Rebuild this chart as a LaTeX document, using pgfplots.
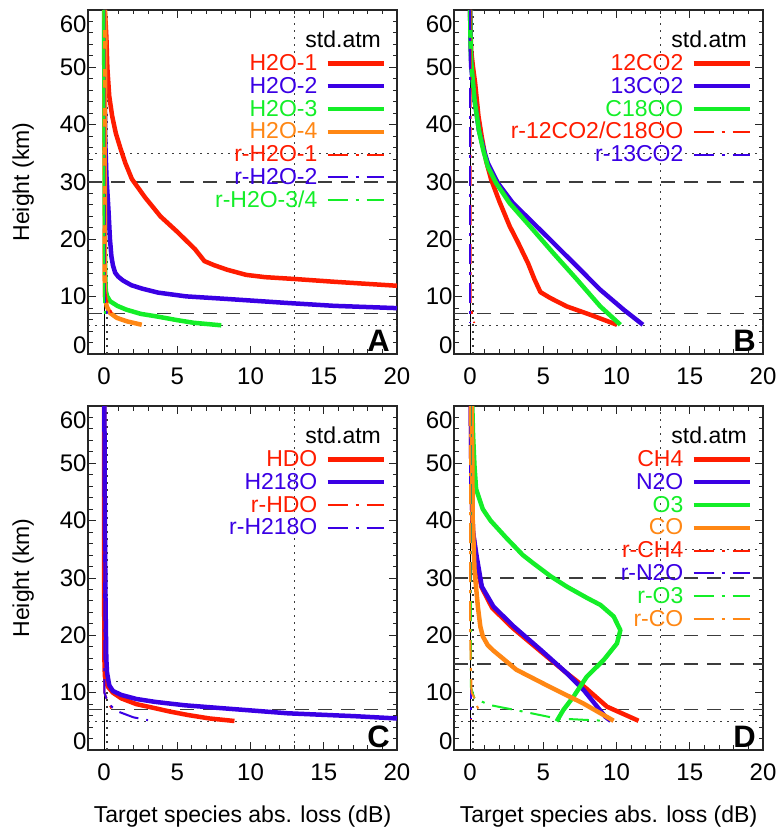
\documentclass[border=0pt]{standalone}
\usepackage{fontspec}
\setmainfont{Liberation Sans}
\usepackage{pgfplots}
\pgfplotsset{compat=1.18}
\definecolor{cred}{RGB}{255,28,0}
\definecolor{cblue}{RGB}{58,0,228}
\definecolor{cgreen}{RGB}{20,238,40}
\definecolor{corange}{RGB}{255,135,20}
\definecolor{refgray}{RGB}{60,60,60}
\pgfplotsset{
  panel/.style={
    scale only axis, width=309pt, height=344pt,
    xmin=-1.1, xmax=20, ymin=0, ymax=60,
    xtick={0,5,10,15,20}, xticklabels={0,5,10,15,20},
    ytick={0,10,20,30,40,50,60},
    yticklabels={\raisebox{0pt}[0pt][0pt]{0},10,20,30,40,50,\raisebox{-0.93em}[0pt][0pt]{60}},
    minor x tick num=4, minor y tick num=4,
    tick align=inside,
    major tick length=8pt, minor tick length=4.5pt,
    axis line style={line width=1.2pt, black!85},
    every tick/.style={line width=1pt, black!85},
    tick label style={font=\fontsize{24}{28}\selectfont},
    xticklabel style={yshift=-10pt},
    yticklabel style={xshift=2pt},
    /pgf/number format/assume math mode=true,
    every axis y label/.style={at={(axis description cs:-0.21,0.5)}, rotate=90, anchor=center, font=\fontsize{23}{23}\selectfont},
    every axis x label/.style={at={(axis description cs:0.5,-0.194)}, anchor=center, font=\fontsize{23}{23}\selectfont},
    legend plot pos=right,
    legend cell align=right,
    legend style={draw=none, fill=none, at={(0.964,0.94)}, anchor=north east,
      inner sep=0pt, outer sep=0pt, row sep=2.8pt, column sep=8pt,
      font=\fontsize{23}{23}\selectfont,
      nodes={inner sep=0pt, text height=17pt, text depth=3pt}},
    legend image code/.code={\draw[##1] (0pt,0pt) -- (56pt,0pt);},
    no markers,
  },
  sol/.style={line width=4.5pt, line join=round, line cap=butt},
  dd/.style={line width=2pt, dash pattern=on 20pt off 8pt on 3pt off 8pt},
  rdash/.style={refgray, line width=1.2pt, dash pattern=on 14pt off 9pt, forget plot},
  rdot/.style={refgray, line width=1.3pt, dash pattern=on 2pt off 5pt, forget plot},
  rsolid/.style={black, line width=1pt, forget plot},
}
\newcommand{\hrefl}[2]{\addplot[#1] coordinates {(-1.1,#2) (20,#2)};}
\newcommand{\vrefl}[2]{\addplot[#1] coordinates {(#2,0) (#2,60)};}
\newcommand{\plabel}[1]{\node[font=\fontsize{31}{31}\selectfont\bfseries, anchor=base east, inner sep=0pt] at (rel axis cs:0.977,0.007) {#1};}
\newcommand{\stdatm}{\addlegendimage{empty legend}\addlegendentry{\makebox[0pt][r]{std.atm\kern-64pt}}}
\begin{document}
\begin{tikzpicture}
% ---------------- Panel A ----------------
\begin{axis}[panel, at={(88pt,478pt)}, anchor=south west, ylabel={Height (km)}]
\vrefl{rsolid}{0}
\vrefl{rdot}{0.2}
\vrefl{rdot}{13}
\hrefl{rdot}{35}
\hrefl{rdash}{30}
\hrefl{rdash}{7}
\hrefl{rdot}{5}
\stdatm
\addplot[sol, cred] coordinates {(0.05,60) (0.12,57) (0.16,55) (0.22,50) (0.35,45) (0.55,41.5) (0.8,38.5) (1.1,36) (1.45,33.3) (1.9,30.5) (2.8,27.3) (3.85,24) (5.0,21.3) (6.2,18.3) (6.85,16.2) (7.5,15.5) (8.4,14.7) (9.7,13.8) (11,13.4) (12.9,13.1) (15.7,12.6) (20,11.9)};
\addlegendentry{\textcolor{cred}{H2O-1}}
\addplot[sol, cblue] coordinates {(0.03,60) (0.05,45) (0.08,37) (0.16,31) (0.3,25) (0.4,20) (0.5,17) (0.6,15.5) (0.75,14.2) (0.96,13.5) (1.3,12.8) (1.86,12.0) (2.6,11.4) (3.7,10.7) (5.6,10.05) (8.4,9.6) (12.5,8.9) (15.7,8.4) (20,8.0)};
\addlegendentry{\textcolor{cblue}{H2O-2}}
\addplot[sol, cgreen] coordinates {(0.0,60) (0.02,40) (0.05,20) (0.08,13) (0.12,11) (0.2,10.1) (0.41,9.2) (0.9,8.4) (1.5,7.75) (2.5,7.0) (3.6,6.55) (5.0,5.9) (6.1,5.45) (8.0,5.0)};
\addlegendentry{\textcolor{cgreen}{H2O-3}}
\addplot[sol, corange] coordinates {(0.05,60) (0.08,55) (0.06,45) (0.04,35) (0.05,25) (0.03,15) (0.06,10) (0.18,8.3) (0.41,7.15) (0.87,6.3) (1.55,5.7) (2.57,5.1)};
\addlegendentry{\textcolor{corange}{H2O-4}}
\addplot[dd, cred] coordinates {(0.02,60) (0.03,12) (0.16,9.5) (0.45,7.5) (0.73,6.0)};
\addlegendentry{\textcolor{cred}{r-H2O-1}}
\addplot[dd, cblue] coordinates {(0.02,60) (0.03,12) (0.05,9.0) (0.27,6.0)};
\addlegendentry{\textcolor{cblue}{r-H2O-2}}
\addplot[dd, cgreen] coordinates {(0.0,60) (0.0,9) (0.1,6)};
\addlegendentry{\textcolor{cgreen}{r-H2O-3/4}}
\plabel{A}
\end{axis}
% ---------------- Panel B ----------------
\begin{axis}[panel, at={(454pt,478pt)}, anchor=south west]
\vrefl{rsolid}{0}
\vrefl{rdot}{0.2}
\vrefl{rdot}{13}
\hrefl{rdot}{35}
\hrefl{rdash}{30}
\hrefl{rdash}{7}
\hrefl{rdot}{5}
\stdatm
\addplot[sol, cred] coordinates {(0.0,60) (0.03,56) (0.07,53) (0.2,50) (0.34,47.3) (0.57,41.5) (0.8,37.8) (1.1,33.6) (1.44,30.4) (2.0,26.6) (2.7,22.3) (3.28,19.4) (3.96,15.8) (4.4,13) (4.8,10.8) (5.45,9.8) (6.6,8.3) (8.2,6.85) (10.03,5.1)};
\addlegendentry{\textcolor{cred}{12CO2}}
\addplot[sol, cblue] coordinates {(0.0,60) (0.03,54) (0.07,50.2) (0.3,44.4) (0.6,39) (1.0,35) (1.21,33.3) (1.9,29.8) (2.93,26.3) (4.31,22.85) (5.68,19.4) (7.29,15.3) (8.89,11.2) (10.5,7.7) (11.8,5.1)};
\addlegendentry{\textcolor{cblue}{13CO2}}
\addplot[sol, cgreen] coordinates {(0.0,60) (0.02,56) (0.07,51) (0.3,44.4) (0.6,39) (0.9,35.5) (1.21,32.7) (1.78,29.8) (2.7,26.3) (4.08,22.3) (5.68,17.6) (7.29,13.0) (8.89,8.3) (10.26,5.1)};
\addlegendentry{\textcolor{cgreen}{C18OO}}
\addplot[dd, cred] coordinates {(0.03,60) (0.03,9) (0.1,7.5) (0.28,5.4)};
\addlegendentry{\textcolor{cred}{r-12CO2/C18OO}}
\addplot[dd, cblue] coordinates {(0.0,60) (0.0,5.5)};
\addlegendentry{\textcolor{cblue}{r-13CO2}}
\plabel{B}
\end{axis}
% ---------------- Panel C ----------------
\begin{axis}[panel, at={(88pt,82pt)}, anchor=south west, ylabel={Height (km)}, xlabel={Target species abs. loss (dB)}]
\vrefl{rsolid}{0}
\vrefl{rdot}{0.2}
\vrefl{rdot}{13}
\hrefl{rdot}{12}
\hrefl{rdash}{7}
\hrefl{rdot}{5}
\stdatm
\addplot[sol, cred] coordinates {(0.0,60) (0.0,30) (0.02,16) (0.05,13) (0.12,12) (0.27,11) (0.6,10) (1.18,9.0) (2.2,8.0) (3.46,7.3) (4.5,6.7) (5.73,6.1) (7.2,5.5) (8.9,5.06)};
\addlegendentry{\textcolor{cred}{HDO}}
\addplot[sol, cblue] coordinates {(0.02,60) (0.05,40) (0.1,25) (0.15,16) (0.2,13.5) (0.35,11.3) (0.6,10.3) (1.18,9.6) (2.2,8.9) (3.46,8.4) (5.5,7.8) (8.0,7.3) (12.56,6.4) (17.1,5.9) (20,5.5)};
\addlegendentry{\textcolor{cblue}{H218O}}
\addplot[dd, cred] coordinates {(0.0,60) (0.02,10) (0.16,9.0) (0.45,7.5) (0.73,6.0)};
\addlegendentry{\textcolor{cred}{r-HDO}}
\addplot[dd, cblue] coordinates {(0.0,60) (0.02,10) (0.16,9.0) (0.5,7.6) (0.96,6.7) (2.0,5.7) (3.0,5.2)};
\addlegendentry{\textcolor{cblue}{r-H218O}}
\plabel{C}
\end{axis}
% ---------------- Panel D ----------------
\begin{axis}[panel, at={(454pt,82pt)}, anchor=south west, xlabel={Target species abs. loss (dB)}]
\vrefl{rsolid}{0}
\vrefl{rdot}{0.2}
\vrefl{rdot}{13}
\hrefl{rdot}{35}
\hrefl{rdash}{30}
\hrefl{rdash}{20}
\hrefl{rdash}{15}
\hrefl{rdash}{7}
\hrefl{rdot}{5}
\stdatm
\addplot[sol, cred] coordinates {(0.05,60) (0.08,50) (0.1,45) (0.2,38) (0.41,33.7) (0.76,28.5) (1.5,24.8) (2.9,21.3) (4.77,17.3) (6.6,13.4) (7.9,10.8) (9.35,7.55) (11.5,5.1)};
\addlegendentry{\textcolor{cred}{CH4}}
\addplot[sol, cblue] coordinates {(0.05,60) (0.08,50) (0.1,45) (0.2,38) (0.45,33.7) (0.8,28.5) (1.6,25) (3.0,21.5) (4.85,17.4) (6.6,13.4) (7.74,10.5) (8.6,7.8) (9.23,5.8) (9.6,5.1)};
\addlegendentry{\textcolor{cblue}{N2O}}
\addplot[sol, cgreen] coordinates {(0.15,60) (0.2,55) (0.3,49.5) (0.41,45.5) (0.87,42) (1.4,40) (2.47,37) (3.6,34) (4.3,32.6) (5.5,30.3) (6.6,28.5) (8.0,26.5) (8.9,25.3) (9.8,23.3) (10.26,20.9) (10.03,18.6) (9.12,15.7) (7.97,12.8) (7.06,9.3) (6.37,7.0) (5.91,5.0)};
\addlegendentry{\textcolor{cgreen}{O3}}
\addplot[sol, corange] coordinates {(0.1,60) (0.15,50) (0.18,40) (0.3,31.4) (0.53,25) (0.7,21.5) (0.87,19.8) (1.2,18.3) (1.56,17.4) (3.16,14) (5.45,11) (7.74,8.1) (9.8,5.1)};
\addlegendentry{\textcolor{corange}{CO}}
\addplot[dd, cred] coordinates {(0.03,60) (0.03,5.2)};
\addlegendentry{\textcolor{cred}{r-CH4}}
\addplot[dd, cblue] coordinates {(0.05,60) (0.05,5.5)};
\addlegendentry{\textcolor{cblue}{r-N2O}}
\addplot[dd, cgreen] coordinates {(0.03,60) (0.05,11) (0.3,9.0) (1.33,7.85) (3.62,6.7) (5.91,5.5) (9.12,5.1)};
\addlegendentry{\textcolor{cgreen}{r-O3}}
\addplot[dd, corange] coordinates {(0.0,60) (0.0,20) (0.1,10) (0.3,9) (0.5,7.5) (0.76,6.1)};
\addlegendentry{\textcolor{corange}{r-CO}}
\plabel{D}
\end{axis}
\pgfresetboundingbox
\path[use as bounding box] (0,0) rectangle (779pt,832pt);
\end{tikzpicture}
\end{document}
